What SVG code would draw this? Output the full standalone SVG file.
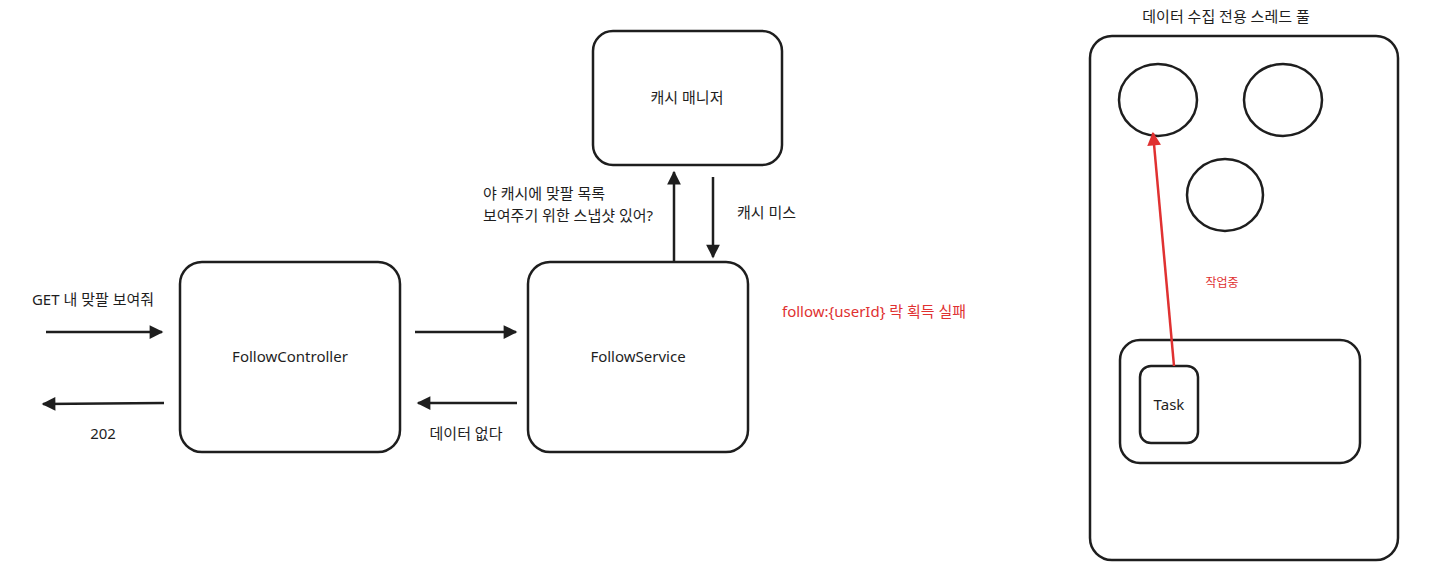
<svg xmlns="http://www.w3.org/2000/svg" width="1437" height="588" viewBox="0 0 1437 588">
<style>
.box{fill:none;stroke:#1e1e1e;stroke-width:2.5}
.t{font-family:"Noto Sans","Noto Sans CJK KR",sans-serif;font-size:15px;fill:#1e1e1e}
.r{fill:#e03131}
.ln{stroke:#1e1e1e;stroke-width:2.5;fill:none}
.rl{stroke:#e03131;stroke-width:2.5;fill:none}
</style>
<defs>
<marker id="ah" viewBox="0 0 10 10" refX="9" refY="5" markerWidth="6" markerHeight="5.5" markerUnits="strokeWidth" orient="auto"><path d="M0,0 L10,5 L0,10 z" fill="#1e1e1e"/></marker>
<marker id="ahr" viewBox="0 0 10 10" refX="9" refY="5" markerWidth="6" markerHeight="5.5" markerUnits="strokeWidth" orient="auto"><path d="M0,0 L10,5 L0,10 z" fill="#e03131"/></marker>
</defs>
<rect width="1437" height="588" fill="#fff"/>
<g id="cache-manager"><rect class="box" x="593" y="31" width="189" height="134" rx="20"/><text class="t" x="687" y="103" text-anchor="middle">캐시 매니저</text></g>
<g id="follow-controller"><rect class="box" x="180" y="262" width="220" height="190" rx="22"/><text class="t" x="290" y="362" text-anchor="middle">FollowController</text></g>
<g id="follow-service"><rect class="box" x="528" y="262" width="220" height="190" rx="22"/><text class="t" x="638" y="362" text-anchor="middle">FollowService</text></g>
<g id="thread-pool"><text class="t" x="1226" y="22" text-anchor="middle">데이터 수집 전용 스레드 풀</text><rect class="box" x="1090" y="36" width="308" height="524" rx="22"/></g>
<g id="thread1"><ellipse class="box" cx="1158" cy="100" rx="39" ry="36"/></g>
<g id="thread2"><ellipse class="box" cx="1283" cy="100" rx="39" ry="36"/></g>
<g id="thread3"><ellipse class="box" cx="1225" cy="195" rx="38" ry="36"/></g>
<g id="queue"><rect class="box" x="1120" y="340" width="240" height="123" rx="20"/></g>
<g id="task"><rect class="box" x="1140" y="366" width="58" height="77" rx="11"/><text class="t" x="1169" y="410" text-anchor="middle">Task</text></g>
<g id="connectors">
<line class="ln" x1="46" y1="332" x2="162" y2="332" marker-end="url(#ah)"/>
<line class="ln" x1="164" y1="403" x2="43" y2="404" marker-end="url(#ah)"/>
<line class="ln" x1="415" y1="332" x2="516" y2="332" marker-end="url(#ah)"/>
<line class="ln" x1="517" y1="403" x2="418" y2="403" marker-end="url(#ah)"/>
<line class="ln" x1="674" y1="261" x2="674" y2="172" marker-end="url(#ah)"/>
<line class="ln" x1="713" y1="177" x2="713" y2="257" marker-end="url(#ah)"/>
<line class="rl" x1="1174" y1="366" x2="1153" y2="133" marker-end="url(#ahr)"/>
</g>
<g id="labels">
<text class="t" x="93" y="305" text-anchor="middle">GET 내 맞팔 보여줘</text>
<text class="t" x="103" y="439" text-anchor="middle">202</text>
<text class="t" x="466" y="439" text-anchor="middle">데이터 없다</text>
<text class="t" x="483" y="199">야 캐시에 맞팔 목록</text>
<text class="t" x="483" y="221">보여주기 위한 스냅샷 있어?</text>
<text class="t" x="737" y="218">캐시 미스</text>
<text class="t r" x="782" y="317">follow:{userId} 락 획득 실패</text>
<text class="t r" x="1222" y="287" text-anchor="middle" style="font-size:12px">작업중</text>
</g>
</svg>
